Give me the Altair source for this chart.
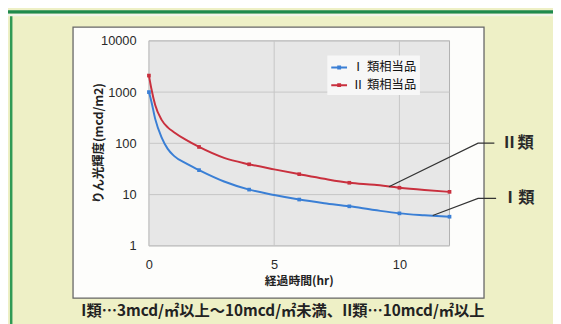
import altair as alt
import pandas as pd

# ---- data ----
hours = [0, 0.1, 0.25, 0.5, 0.75, 1, 1.5, 2, 3, 4, 5, 6, 7, 8, 9, 10, 11, 12]
class1 = [1000, 650, 300, 132, 78, 57, 40, 30, 18, 12.5, 9.8, 8.0, 6.8, 5.9, 5.0, 4.3, 3.95, 3.7]
class2 = [2100, 1150, 560, 290, 205, 165, 115, 85, 52, 39, 31, 25, 20.3, 17, 15.5, 13.6, 12.3, 11.3]
marker_hours = [0, 2, 4, 6, 8, 10, 12]
series_names = ["Ⅰ 類相当品", "Ⅱ 類相当品"]
x_ticks = [0, 5, 10]
y_ticks = [1, 10, 100, 1000, 10000]
x_title = "経過時間(hr)"
y_title = "りん光輝度(mcd/m2)"

# leader lines (hour, luminance) from curve to label
lead2_x = [9.58, 13.14, 13.79]
lead2_y = [14.2, 101, 101]
lead1_x = [11.33, 13.14, 13.86]
lead1_y = [3.9, 8.4, 8.4]
label_text = ["Ⅱ類", "Ⅰ類"]
label_x = [14.07, 14.1]
label_y = [100, 8.4]
note_text = "I類…3mcd/㎡以上～10mcd/㎡未満、II類…10mcd/㎡以上"

BLUE = "#3a7fd5"
RED = "#c9303e"
JP = "Noto Sans CJK JP"
W, H = 305, 208

rows = []
for h, a, b in zip(hours, class1, class2):
    rows.append({"hour": h, "value": a, "series": series_names[0]})
    rows.append({"hour": h, "value": b, "series": series_names[1]})
df = pd.DataFrame(rows)
mk = df[df["hour"].isin(marker_hours)]

lead_rows = []
for i, (x, y) in enumerate(zip(lead2_x, lead2_y)):
    lead_rows.append({"hour": x, "value": y, "grp": "II", "o": i})
for i, (x, y) in enumerate(zip(lead1_x, lead1_y)):
    lead_rows.append({"hour": x, "value": y, "grp": "I", "o": i})
lead_df = pd.DataFrame(lead_rows)
lab_df = pd.DataFrame({"hour": label_x, "value": label_y, "t": label_text})
gy_df = pd.DataFrame({"value": y_ticks})
gx_df = pd.DataFrame({"hour": x_ticks[1:]})

one = pd.DataFrame({"k": [0]})
xs = alt.Scale(domain=[0, 12], nice=False)
ys = alt.Scale(type="log", domain=[1, 10000], nice=False)

xaxis = alt.Axis(
    values=x_ticks, title=None, grid=False, ticks=False, tickSize=0,
    domain=False, labelPadding=13, labelFlush=False, zindex=1,
    labelFont="Liberation Sans", labelFontSize=13, labelColor="#2a2a2a")
yaxis = alt.Axis(
    values=y_ticks, format="d", title=None, grid=False, ticks=False,
    tickSize=0, domain=False, labelPadding=13, labelFlush=False, zindex=1,
    labelFont="Liberation Sans", labelFontSize=13, labelColor="#2a2a2a")


def X(f="hour"):
    return alt.X(f"{f}:Q", scale=xs, axis=xaxis)


def Y(f="value"):
    return alt.Y(f"{f}:Q", scale=ys, axis=yaxis)


def box(x1, x2, y1, y2, **kw):
    return alt.Chart(one).mark_rect(**kw).encode(
        x=alt.value(x1), x2=alt.value(x2), y=alt.value(y1), y2=alt.value(y2))


green_bar = box(-143, 410, -31, -27.5, fill="#1f8a4c")
strip = box(-143, 410, -27.5, -25, fill="#f3f3e8")
green_line = box(-141, -138.5, -25, 290, fill="#2f9a55")
white_box = box(-77, 340, -14, 261, fill="#fdfdfb", stroke="#666666", strokeWidth=1.3)
plot_bg = box(0, W, 0, H, fill="#e7e7e7", stroke="#b0b0b0", strokeWidth=1)

grid_y = alt.Chart(gy_df).mark_rule(color="#c6c6c6", strokeWidth=1).encode(y=Y())
grid_x = alt.Chart(gx_df).mark_rule(color="#c6c6c6", strokeWidth=1).encode(x=X())

color_scale = alt.Scale(domain=series_names, range=[BLUE, RED])

lines = alt.Chart(df).mark_line(strokeWidth=2, interpolate="monotone").encode(
    x=X(), y=Y(),
    color=alt.Color("series:N", scale=color_scale, legend=alt.Legend(
        orient="none", legendX=181, legendY=15, title=None,
        symbolType="M-1,0H1M-0.12,-0.12H0.12V0.12H-0.12Z", symbolSize=256,
        symbolStrokeWidth=2, labelFont=JP, labelFontSize=12.5, labelColor="#111111",
        labelOffset=4, fillColor="#f7f7f7", padding=3, rowPadding=2)),
    detail="series:N",
)

points = alt.Chart(mk).mark_point(shape="square", filled=True, size=14, opacity=1).encode(
    x=X(), y=Y(),
    color=alt.Color("series:N", scale=color_scale, legend=None),
)

leaders = alt.Chart(lead_df).mark_line(color="#333333", strokeWidth=1.2).encode(
    x=X(), y=Y(), detail="grp:N", order="o:Q",
)

labels = alt.Chart(lab_df).mark_text(
    font=JP, fontSize=16.5, fontWeight="bold", color="#2a2a2a", align="left",
    baseline="middle").encode(x=X(), y=Y(), text="t:N")

xt = alt.Chart(one).mark_text(
    text=x_title, font=JP, fontSize=12, fontWeight="bold", color="#222222",
    align="center", baseline="middle").encode(x=alt.value(W / 2), y=alt.value(244))
yt = alt.Chart(one).mark_text(
    text=y_title, font=JP, fontSize=12.5, fontWeight="bold", color="#222222",
    align="center", baseline="middle", angle=270).encode(x=alt.value(-51), y=alt.value(H / 2))

note = alt.Chart(one).mark_text(
    text=note_text, font=JP, fontSize=15.5, fontWeight="bold", color="#222222",
    align="center", baseline="middle").encode(x=alt.value(136), y=alt.value(274))

chart = alt.layer(
    green_bar, strip, green_line, white_box, plot_bg, grid_y, grid_x,
    lines, points, leaders, labels, xt, yt, note
).properties(
    width=W, height=H,
    padding={"left": 143, "top": 31, "right": 105, "bottom": 77},
    autosize=alt.AutoSizeParams(type="none"),
    background="#eef0c6",
).configure_view(stroke=None)

chart.save("out.html", embed_options={"renderer": "svg", "actions": False})
